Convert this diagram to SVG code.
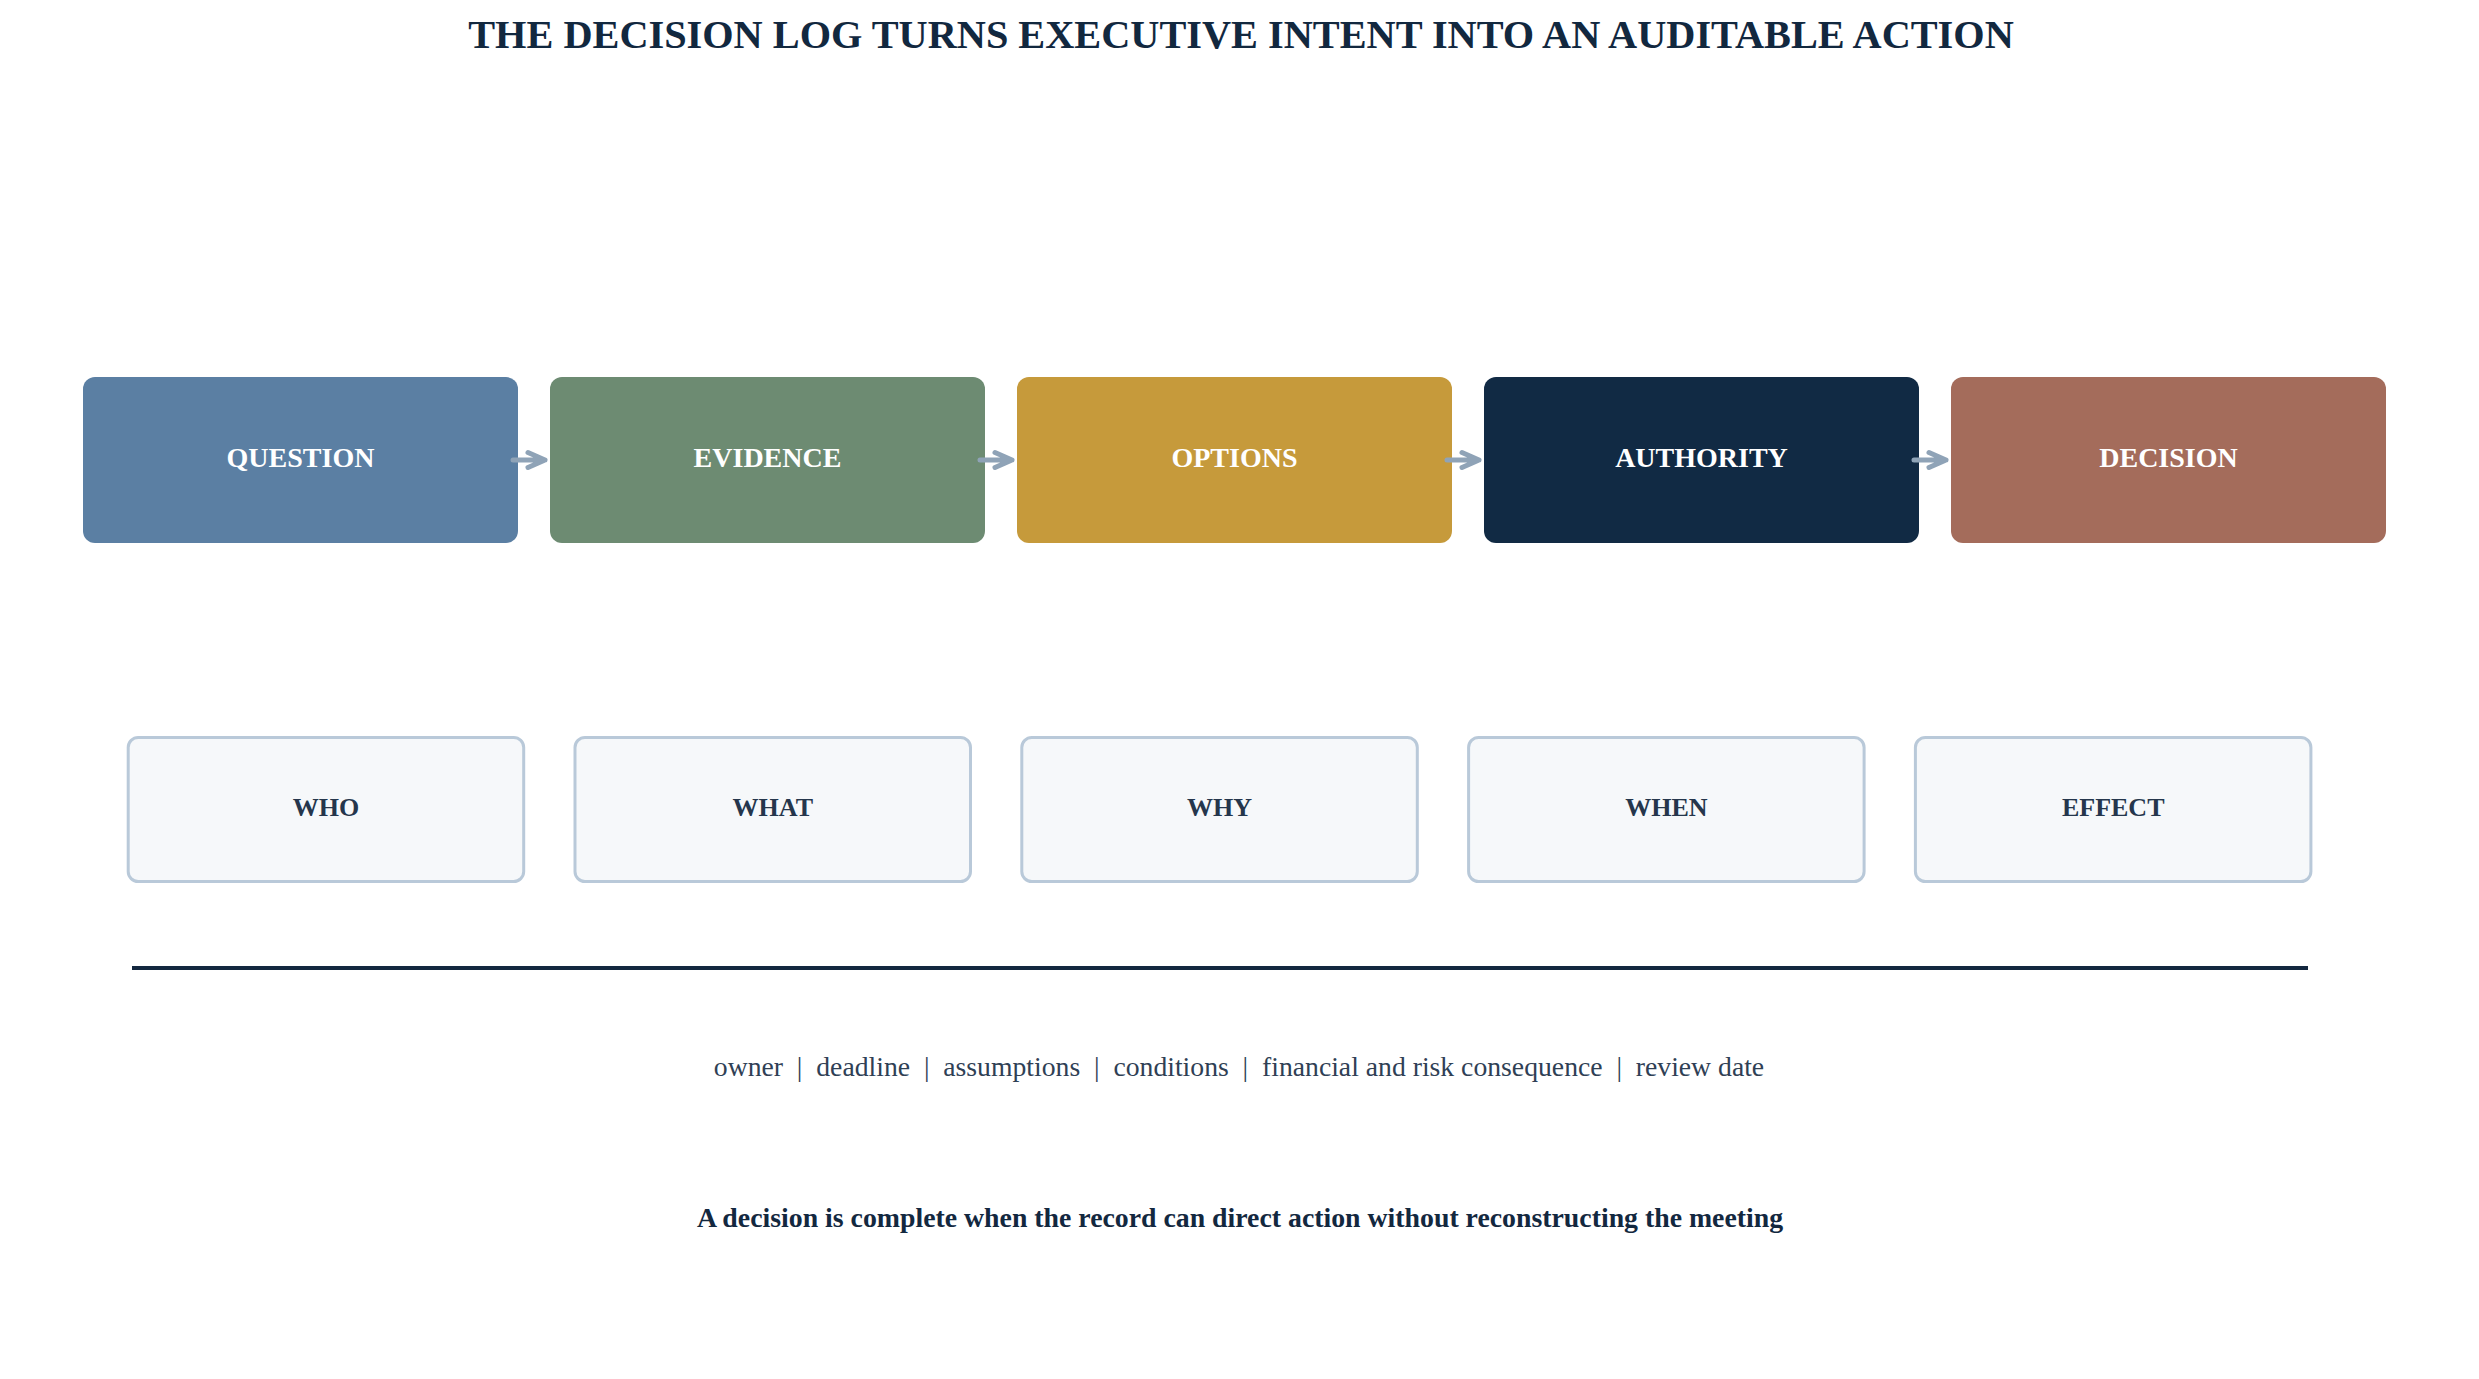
<svg xmlns="http://www.w3.org/2000/svg" width="2479" height="1379" viewBox="0 0 2479 1379">
<defs>
<style>
.t{font-family:"Liberation Serif","Times New Roman",serif;}
.title{font-size:40.3px;font-weight:bold;fill:#12283f;text-anchor:middle;}
.stage rect{stroke:none;}
.stage text{font-size:28px;font-weight:bold;fill:#ffffff;text-anchor:middle;}
.field rect{fill:#f6f8fa;stroke:#b9c9d9;stroke-width:3;}
.field text{font-size:26px;font-weight:bold;fill:#25364c;text-anchor:middle;}
.conn{fill:none;stroke:#8fa3b7;stroke-width:5;stroke-linecap:round;stroke-linejoin:round;}
.note{font-size:27.7px;fill:#2f4055;text-anchor:middle;white-space:pre;}
.foot{font-size:27.8px;font-weight:bold;fill:#13283f;text-anchor:middle;}
</style>
</defs>
<rect x="0" y="0" width="2479" height="1379" fill="#ffffff"/>
<text class="t title" x="1241" y="48">THE DECISION LOG TURNS EXECUTIVE INTENT INTO AN AUDITABLE ACTION</text>
<g id="stages">
<g id="node-question" class="stage t"><rect x="83" y="377" width="435" height="166" rx="12" fill="#5b7fa3"/><text x="300.5" y="467">QUESTION</text></g>
<g id="node-evidence" class="stage t"><rect x="550" y="377" width="435" height="166" rx="12" fill="#6d8b72"/><text x="767.5" y="467">EVIDENCE</text></g>
<g id="node-options" class="stage t"><rect x="1017" y="377" width="435" height="166" rx="12" fill="#c69a3b"/><text x="1234.5" y="467">OPTIONS</text></g>
<g id="node-authority" class="stage t"><rect x="1484" y="377" width="435" height="166" rx="12" fill="#112a44"/><text x="1701.5" y="467">AUTHORITY</text></g>
<g id="node-decision" class="stage t"><rect x="1951" y="377" width="435" height="166" rx="12" fill="#a46c5b"/><text x="2168.5" y="467">DECISION</text></g>
</g>
<g id="connectors">
<path class="conn" d="M513 460H545M528 452.5L545 460L528 467.5"/>
<path class="conn" d="M980 460H1012M995 452.5L1012 460L995 467.5"/>
<path class="conn" d="M1447 460H1479M1462 452.5L1479 460L1462 467.5"/>
<path class="conn" d="M1914 460H1946M1929 452.5L1946 460L1929 467.5"/>
</g>
<g id="fields">
<g id="node-who" class="field t"><rect x="128.2" y="737.5" width="395.5" height="144" rx="10"/><text x="326" y="816">WHO</text></g>
<g id="node-what" class="field t"><rect x="575" y="737.5" width="395.5" height="144" rx="10"/><text x="772.8" y="816">WHAT</text></g>
<g id="node-why" class="field t"><rect x="1021.8" y="737.5" width="395.5" height="144" rx="10"/><text x="1219.6" y="816">WHY</text></g>
<g id="node-when" class="field t"><rect x="1468.6" y="737.5" width="395.5" height="144" rx="10"/><text x="1666.4" y="816">WHEN</text></g>
<g id="node-effect" class="field t"><rect x="1915.4" y="737.5" width="395.5" height="144" rx="10"/><text x="2113.2" y="816">EFFECT</text></g>
</g>
<line x1="132" y1="968" x2="2308" y2="968" stroke="#13283f" stroke-width="4"/>
<text class="t note" x="1239" y="1076" xml:space="preserve">owner  |  deadline  |  assumptions  |  conditions  |  financial and risk consequence  |  review date</text>
<text class="t foot" x="1240" y="1227">A decision is complete when the record can direct action without reconstructing the meeting</text>
</svg>
